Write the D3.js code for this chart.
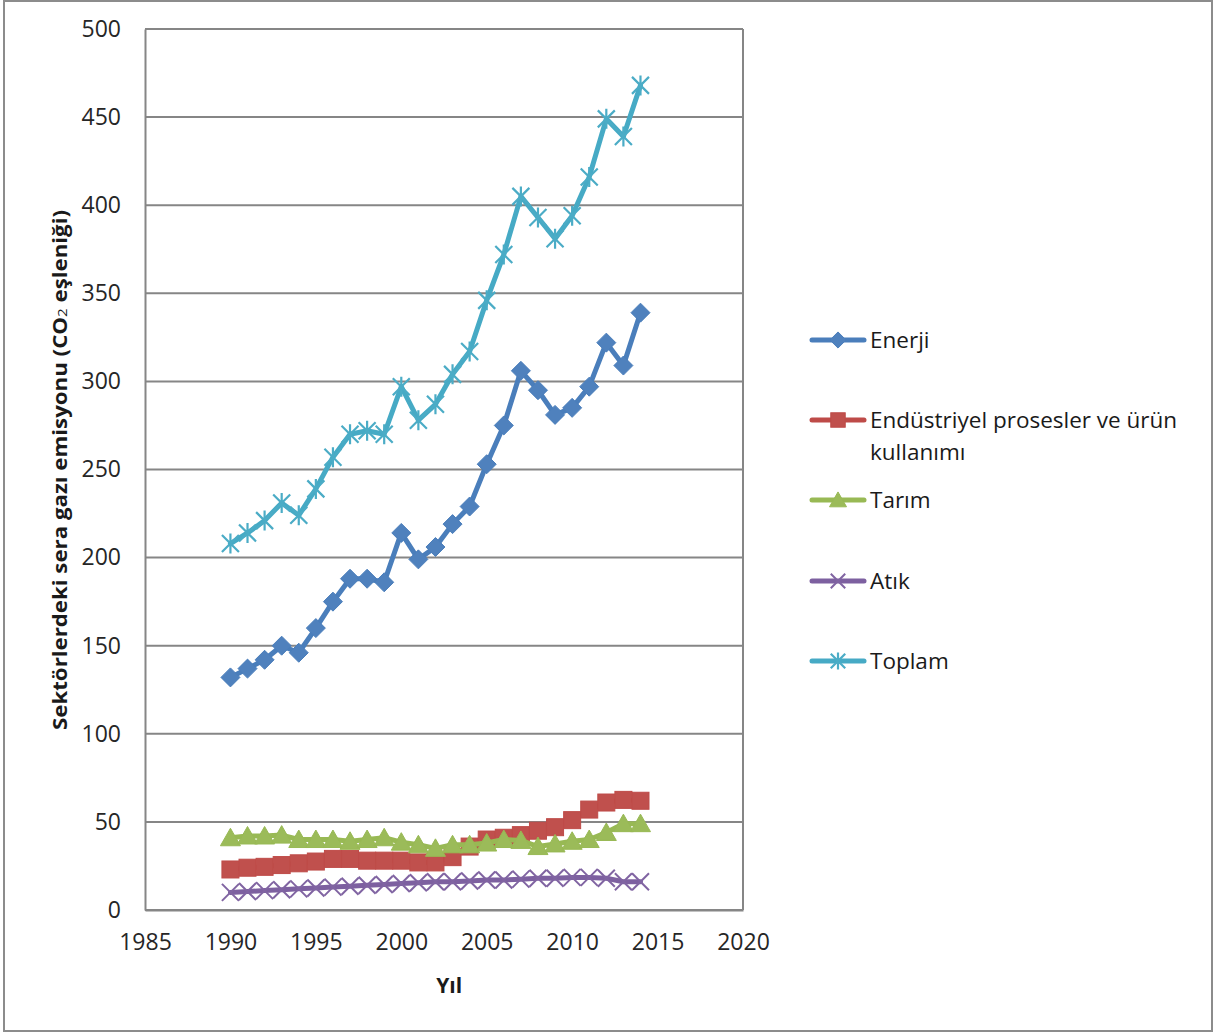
<!DOCTYPE html>
<html><head><meta charset="utf-8">
<script src="https://cdn.jsdelivr.net/npm/d3@7"></script>
<style>body{margin:0;background:#fff}svg{display:block}</style>
</head><body>
<script>
const years = [1990,1991,1992,1993,1994,1995,1996,1997,1998,1999,2000,2001,2002,2003,2004,2005,2006,2007,2008,2009,2010,2011,2012,2013,2014];
const enerji = [132,137,142,150,146,160,175,188,188,186,214,199,206,219,229,253,275,306,295,281,285,297,322,309,339];
const endustri = [23,24,24.5,25.5,26.5,27.5,29,29,28,28,28,27,27,30,36,40,41,42.5,45,47,51,57,61,62.5,62];
const tarim = [41,42,42,42.5,40,40,40,39,40,41,38.5,37,35,37,37,38,40,39.5,36,37.5,39,40,44,49,49];
const atik = [10,10.5,11,11.5,12,12.5,13,13.5,14,14.5,15,15.5,16,16,16.5,17,17,17.5,18,18,18.5,18.5,18,16,16];
const toplam = [208,214,221,231,224,239,257,270,272,270,297,278,287,304,317,346,372,405,393,381,394,416,449,439,468];
const seriesNames = ["Enerji","Endüstriyel prosesler ve ürün kullanımı","Tarım","Atık","Toplam"];
const xTicks = [1985,1990,1995,2000,2005,2010,2015,2020];
const yTicks = [0,50,100,150,200,250,300,350,400,450,500];
const xTitle = "Yıl";
const yTitleParts = ["Sektörlerdeki sera gazı emisyonu (CO", "2", " eşleniği)"];

const W = 1223, H = 1034;
const svg = d3.select("body").append("svg").attr("width", W).attr("height", H);
const font = "'Open Sans', sans-serif";
const grid = "#868686";

svg.append("rect").attr("x",4).attr("y",1).attr("width",1208).attr("height",1030)
  .attr("fill","#fff").attr("stroke","#8c8c8c").attr("stroke-width",2);

const x = d3.scaleLinear().domain([1985,2020]).range([145,743]);
const y = d3.scaleLinear().domain([0,500]).range([910,29]);

// gridlines
svg.append("g").selectAll("line").data(yTicks).join("line")
  .attr("x1",x(1985)).attr("x2",x(2020)).attr("y1",d=>y(d)).attr("y2",d=>y(d))
  .attr("stroke",grid).attr("stroke-width",2);
svg.append("line").attr("x1",x(2020)).attr("x2",x(2020)).attr("y1",y(500)).attr("y2",y(0)).attr("stroke",grid).attr("stroke-width",2);

// axes
const yAxis = svg.append("g").attr("transform",`translate(${x(1985)},0)`)
  .call(d3.axisLeft(y).tickValues(yTicks).tickSize(0).tickPadding(24));
yAxis.select(".domain").attr("stroke",grid).attr("stroke-width",2);
yAxis.selectAll("text").attr("font-family",font).attr("font-size",23).attr("fill","#262626");

const xAxis = svg.append("g").attr("transform",`translate(0,${y(0)})`)
  .call(d3.axisBottom(x).tickValues(xTicks).tickFormat(d3.format("d")).tickSize(0).tickPadding(24));
xAxis.select(".domain").attr("stroke",grid).attr("stroke-width",2);
xAxis.selectAll("text").attr("font-family",font).attr("font-size",23).attr("fill","#262626");

// titles
svg.append("text").attr("x",x(2002.8)).attr("y",993).attr("text-anchor","middle")
  .attr("font-family",font).attr("font-weight","bold").attr("font-size",21).attr("fill","#1a1a1a").text(xTitle);
const yt = svg.append("text").attr("transform","translate(67,470) rotate(-90)").attr("text-anchor","middle")
  .attr("font-family",font).attr("font-weight","bold").attr("font-size",19).attr("fill","#1a1a1a")
  .attr("textLength",520).attr("lengthAdjust","spacingAndGlyphs");
yt.append("tspan").text(yTitleParts[0]);
yt.append("tspan").attr("font-size",13).attr("font-weight","normal").text(yTitleParts[1]);
yt.append("tspan").text(yTitleParts[2]);

const series = [
  {name:seriesNames[0], vals:enerji, line:"#4A7EBB", fill:"#4F81BD", m:"diamond"},
  {name:seriesNames[1], vals:endustri, line:"#BE4B48", fill:"#C0504D", m:"square"},
  {name:seriesNames[2], vals:tarim, line:"#98B954", fill:"#9BBB59", m:"triangle"},
  {name:seriesNames[3], vals:atik, line:"#7D60A0", fill:"#8064A2", m:"x"},
  {name:seriesNames[4], vals:toplam, line:"#46AAC5", fill:"#4BACC6", m:"star"}
];

function marker(g, type, c, cx, cy, s) {
  s = s || 1;
  if (type==="diamond") g.append("path").attr("d",`M${cx},${cy-9.5*s}L${cx+9.5*s},${cy}L${cx},${cy+9.5*s}L${cx-9.5*s},${cy}Z`).attr("fill",c.fill).attr("stroke",c.line).attr("stroke-width",1);
  else if (type==="square") g.append("rect").attr("x",cx-8.5*s).attr("y",cy-8.5*s).attr("width",17*s).attr("height",17*s).attr("fill",c.fill).attr("stroke",c.line).attr("stroke-width",1);
  else if (type==="triangle") g.append("path").attr("d",`M${cx},${cy-9.5*s}L${cx+10*s},${cy+8*s}L${cx-10*s},${cy+8*s}Z`).attr("fill",c.fill).attr("stroke",c.line).attr("stroke-width",1);
  else if (type==="x") g.append("path").attr("d",`M${cx-8.5*s},${cy-8.5*s}L${cx+8.5*s},${cy+8.5*s}M${cx+8.5*s},${cy-8.5*s}L${cx-8.5*s},${cy+8.5*s}`).attr("stroke",c.fill).attr("stroke-width",2).attr("fill","none");
  else if (type==="star") g.append("path").attr("d",`M${cx-8.5*s},${cy-8.5*s}L${cx+8.5*s},${cy+8.5*s}M${cx+8.5*s},${cy-8.5*s}L${cx-8.5*s},${cy+8.5*s}M${cx},${cy-10*s}L${cx},${cy+10*s}`).attr("stroke",c.fill).attr("stroke-width",2.2).attr("fill","none");
}

const lineGen = d3.line().x((d,i)=>x(years[i])).y(d=>y(d));
series.forEach(s=>{
  const g = svg.append("g");
  g.append("path").attr("d",lineGen(s.vals)).attr("fill","none").attr("stroke",s.line)
    .attr("stroke-width",5).attr("stroke-linejoin","round").attr("stroke-linecap","round");
  s.vals.forEach((v,i)=>marker(g,s.m,s,x(years[i]),y(v)));
});

// legend
const legY = [340,420,500,581,661];
series.forEach((s,i)=>{
  const g = svg.append("g");
  g.append("line").attr("x1",812).attr("x2",864).attr("y1",legY[i]).attr("y2",legY[i])
    .attr("stroke",s.line).attr("stroke-width",5).attr("stroke-linecap","round");
  marker(g,s.m,s,838,legY[i],0.85);
  const t = g.append("text").attr("x",870).attr("y",legY[i]+8).attr("font-family",font)
    .attr("font-size",22.5).attr("fill","#1a1a1a");
  if (i===1) {
    t.text("Endüstriyel prosesler ve ürün");
    g.append("text").attr("x",870).attr("y",legY[i]+40).attr("font-family",font)
      .attr("font-size",22.5).attr("fill","#1a1a1a").text("kullanımı");
  } else t.text(s.name);
});
</script>
</body></html>
